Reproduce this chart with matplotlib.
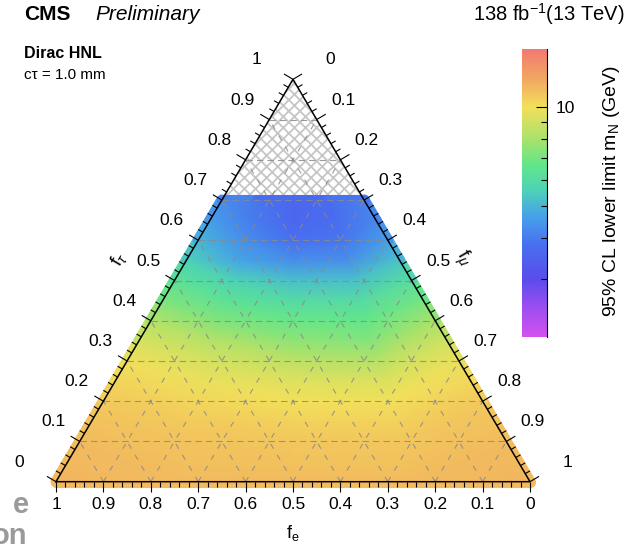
import numpy as np
import matplotlib
matplotlib.use("Agg")
import matplotlib.pyplot as plt
import matplotlib.tri as mtri
from matplotlib.colors import LinearSegmentedColormap, LogNorm
from matplotlib.collections import LineCollection
from matplotlib.patches import Polygon
from matplotlib.cm import ScalarMappable
from matplotlib.ticker import FixedLocator, NullFormatter

plt.rcParams["font.family"] = ["Liberation Sans", "DejaVu Sans"]
plt.rcParams["mathtext.fontset"] = "custom"
plt.rcParams["mathtext.rm"] = "Liberation Sans"
plt.rcParams["mathtext.it"] = "Liberation Sans:italic"
plt.rcParams["mathtext.bf"] = "Liberation Sans:bold"
plt.rcParams["hatch.linewidth"] = 1.3

# ---------------------------------------------------------------- data
# rows of constant f_tau; along each row the samples run from the
# f_mu = 0 edge (left) to the f_e = 0 edge (right)
tau_rows = [0.00, 0.05, 0.10, 0.15, 0.20, 0.25, 0.30, 0.35,
            0.40, 0.45, 0.50, 0.55, 0.60, 0.65, 0.70]
row_frac = [0.0, 0.25, 0.5, 0.75, 1.0]

# 95% CL lower limit on m_N (GeV)
mass_limit = [
    [11.5, 11.3, 11.3, 11.3, 11.5],
    [11.4, 11.2, 11.1, 11.1, 11.4],
    [11.3, 11.0, 10.9, 10.9, 11.3],
    [11.1, 10.7, 10.5, 10.5, 11.1],
    [10.8, 10.3, 10.0, 10.0, 10.8],
    [10.4, 9.8, 9.4, 9.3, 10.3],
    [9.9, 9.1, 8.5, 8.3, 9.8],
    [9.2, 8.2, 7.5, 7.3, 9.0],
    [8.2, 7.2, 6.8, 6.7, 8.0],
    [7.2, 6.4, 6.0, 6.0, 7.0],
    [6.4, 5.6, 5.2, 5.2, 6.2],
    [5.6, 4.7, 4.3, 4.3, 5.3],
    [5.0, 4.3, 3.8, 3.9, 4.6],
    [4.6, 4.0, 3.6, 3.7, 4.2],
    [4.3, 3.9, 3.6, 3.7, 4.1],
]

z_min, z_max = 2.0, 15.0
cbar_major = [10]
cbar_minor = [3, 4, 5, 6, 7, 8, 9]

axis_ticks = [0.0, 0.1, 0.2, 0.3, 0.4, 0.5, 0.6, 0.7, 0.8, 0.9, 1.0]
axis_labels = ["0", "0.1", "0.2", "0.3", "0.4", "0.5", "0.6", "0.7", "0.8", "0.9", "1"]

# ---------------------------------------------------------------- colours
cmap = LinearSegmentedColormap.from_list("limit", [
    (0.00, "#d250f0"),
    (0.10, "#9c4ef0"),
    (0.20, "#5a4cec"),
    (0.32, "#4870f0"),
    (0.42, "#46a2e8"),
    (0.51, "#4ed2b6"),
    (0.60, "#62e68a"),
    (0.69, "#abe26a"),
    (0.80, "#f2e05a"),
    (0.895, "#f2a860"),
    (1.00, "#f27a72"),
])
norm = LogNorm(vmin=z_min, vmax=z_max)

# ---------------------------------------------------------------- layout
W, H = 628, 544
X0, YB, BW, TH = 56.0, 481.7, 474.0, 402.4   # base-left corner, base width, height (px)

fig = plt.figure(figsize=(W / 100, H / 100), dpi=100)
ax = fig.add_axes([0, 0, 1, 1])
ax.set_xlim(-X0 / BW, (W - X0) / BW)
ax.set_ylim((YB - H) / TH, YB / TH)
ax.axis("off")


def cart(fe, fmu, ftau):
    return fmu + 0.5 * ftau, ftau


def off(dx, dy):
    """pixel offset (y up) -> data offset"""
    return dx / BW, dy / TH


def fxy(x, y):
    """pixel position (y down) -> figure fraction"""
    return x / W, 1 - y / H


# ---------------------------------------------------------------- limit map
xs, ys, zs = [], [], []
for t, row in zip(tau_rows, mass_limit):
    for s, v in zip(row_frac, row):
        fmu = s * (1 - t)
        x, y = cart(1 - t - fmu, fmu, t)
        xs.append(x)
        ys.append(y)
        zs.append(v)
tri = mtri.Triangulation(xs, ys)
ax.tripcolor(tri, zs, shading="gouraud", cmap=cmap, norm=norm, zorder=2)

# soft rim of the sampled points along the borders of the map
rim_lw = 8.0
left_pts = [cart(1 - t, 0, t) for t in tau_rows]
left_val = [row[0] for row in mass_limit]
right_pts = [cart(0, 1 - t, t) for t in tau_rows]
right_val = [row[-1] for row in mass_limit]
t0, tN = tau_rows[0], tau_rows[-1]
bot_pts = [cart(1 - t0 - s * (1 - t0), s * (1 - t0), t0) for s in row_frac]
bot_val = mass_limit[0]
top_pts = [cart(1 - tN - s * (1 - tN), s * (1 - tN), tN) for s in row_frac]
top_val = mass_limit[-1]
for pts, vals in [(left_pts, left_val), (right_pts, right_val),
                  (bot_pts, bot_val), (top_pts, top_val)]:
    segs = [[pts[i], pts[i + 1]] for i in range(len(pts) - 1)]
    mids = [np.sqrt(vals[i] * vals[i + 1]) for i in range(len(vals) - 1)]
    lc = LineCollection(segs, cmap=cmap, norm=norm, linewidths=rim_lw,
                        capstyle="round", zorder=1.5)
    lc.set_array(np.array(mids))
    ax.add_collection(lc)

# region without a limit
hatch = Polygon([cart(0.3, 0, 0.7), cart(0, 0.3, 0.7), cart(0, 0, 1.0)],
                closed=True, facecolor="white", edgecolor="#c6c6c6",
                hatch="xxx", linewidth=0, zorder=1)
ax.add_patch(hatch)

# ---------------------------------------------------------------- grid
gcol, glw = "#8a8a8a", 0.8
for c in axis_ticks[1:-1]:
    p, q = cart(1 - c, 0, c), cart(0, 1 - c, c)
    ax.plot([p[0], q[0]], [p[1], q[1]], color=gcol, lw=glw, alpha=0.85,
            dashes=(5.8, 3.6), zorder=3)
    p, q = cart(1 - c, c, 0), cart(0, c, 1 - c)
    ax.plot([p[0], q[0]], [p[1], q[1]], color=gcol, lw=glw, alpha=0.85,
            dashes=(5.0, 6.5), zorder=3)
    p, q = cart(c, 1 - c, 0), cart(c, 0, 1 - c)
    ax.plot([p[0], q[0]], [p[1], q[1]], color=gcol, lw=glw, alpha=0.85,
            dashes=(5.0, 6.5), zorder=3)

# ---------------------------------------------------------------- frame
corners = [cart(1, 0, 0), cart(0, 1, 0), cart(0, 0, 1), cart(1, 0, 0)]
ax.plot([p[0] for p in corners], [p[1] for p in corners], color="black",
        lw=1.1, zorder=5, solid_joinstyle="miter")

nl = (-0.8617, 0.5075)
nr = (0.8617, 0.5075)
nb = (0.0, -1.0)
tick_segs = []
for k in range(51):
    v = k * 0.02
    L = 10.5 if k % 5 == 0 else 5.5
    for base, n in [(cart(1 - v, 0, v), nl),
                    (cart(0, v, 1 - v), nr),
                    (cart(v, 1 - v, 0), nb)]:
        d = off(n[0] * L, n[1] * L)
        tick_segs.append([base, (base[0] + d[0], base[1] + d[1])])
ax.add_collection(LineCollection(tick_segs, colors="black", linewidths=0.8, zorder=5))

tfs = 12.5
for v, lab in zip(axis_ticks, axis_labels):
    corner = v in (0.0, 1.0)
    b = cart(1 - v, 0, v)
    d = off(-37 if corner else -26.5, 19.5)
    ax.text(b[0] + d[0], b[1] + d[1], lab, fontsize=tfs, ha="center", va="center")
    b = cart(0, v, 1 - v)
    d = off(37 if corner else 26.5, 19.5)
    ax.text(b[0] + d[0], b[1] + d[1], lab, fontsize=tfs, ha="center", va="center")
    b = cart(v, 1 - v, 0)
    d = off(0, -23)
    ax.text(b[0] + d[0], b[1] + d[1], lab, fontsize=tfs, ha="center", va="center")

edge_angle = np.degrees(np.arctan2(TH, BW / 2))
ax.text((119 - X0) / BW, (YB - 259) / TH, r"f$_{\tau}$", fontsize=14,
        rotation=edge_angle, ha="center", va="center", rotation_mode="anchor")
ax.text((463 - X0) / BW, (YB - 259) / TH, r"f$_{\mu}$", fontsize=14,
        rotation=-edge_angle, ha="center", va="center", rotation_mode="anchor")
ax.text((293 - X0) / BW, (YB - 533) / TH, r"f$_{\mathrm{e}}$", fontsize=13,
        ha="center", va="center")

# ---------------------------------------------------------------- colour bar
cb_l, cb_r, cb_t, cb_b = 522, 547, 49.3, 336.7
cax = fig.add_axes([cb_l / W, 1 - cb_b / H, (cb_r - cb_l) / W, (cb_b - cb_t) / H])
sm = ScalarMappable(norm=norm, cmap=cmap)
cb = fig.colorbar(sm, cax=cax)
cb.outline.set_visible(False)
cax.plot([1, 1], [0, 1], transform=cax.transAxes, color="black", lw=0.8, clip_on=False)
cax.yaxis.set_major_locator(FixedLocator(cbar_major))
cax.yaxis.set_minor_locator(FixedLocator(cbar_minor))
cax.yaxis.set_minor_formatter(NullFormatter())
cax.set_yticklabels([str(v) for v in cbar_major])
cax.tick_params(axis="y", which="major", direction="in", length=8, width=0.8,
                labelsize=12.5, pad=6)
cax.tick_params(axis="y", which="minor", direction="in", length=4, width=0.8)
fig.text(*fxy(612, 191), r"95% CL lower limit m$_{\mathrm{N}}$ (GeV)", rotation=90,
         fontsize=14, ha="center", va="center")

# ---------------------------------------------------------------- labels
fig.text(*fxy(24, 14), "CMS", fontsize=15, fontweight="bold", va="center")
fig.text(*fxy(95, 14), "Preliminary", fontsize=15, fontstyle="italic", va="center")
fig.text(*fxy(625, 14), r"138 fb$^{-1}$(13 TeV)", fontsize=14.5, ha="right", va="center")
fig.text(*fxy(24, 53), "Dirac HNL", fontsize=11.5, fontweight="bold", va="center")
fig.text(*fxy(24, 75), "cτ = 1.0 mm", fontsize=11, va="center")

fig.text(*fxy(29, 505), "e", fontsize=21, fontweight="bold", color="#9a9a9a",
         ha="right", va="center")
fig.text(*fxy(27, 536), "on", fontsize=21, fontweight="bold", color="#9a9a9a",
         ha="right", va="center")

fig.savefig("out.png", dpi=100)
